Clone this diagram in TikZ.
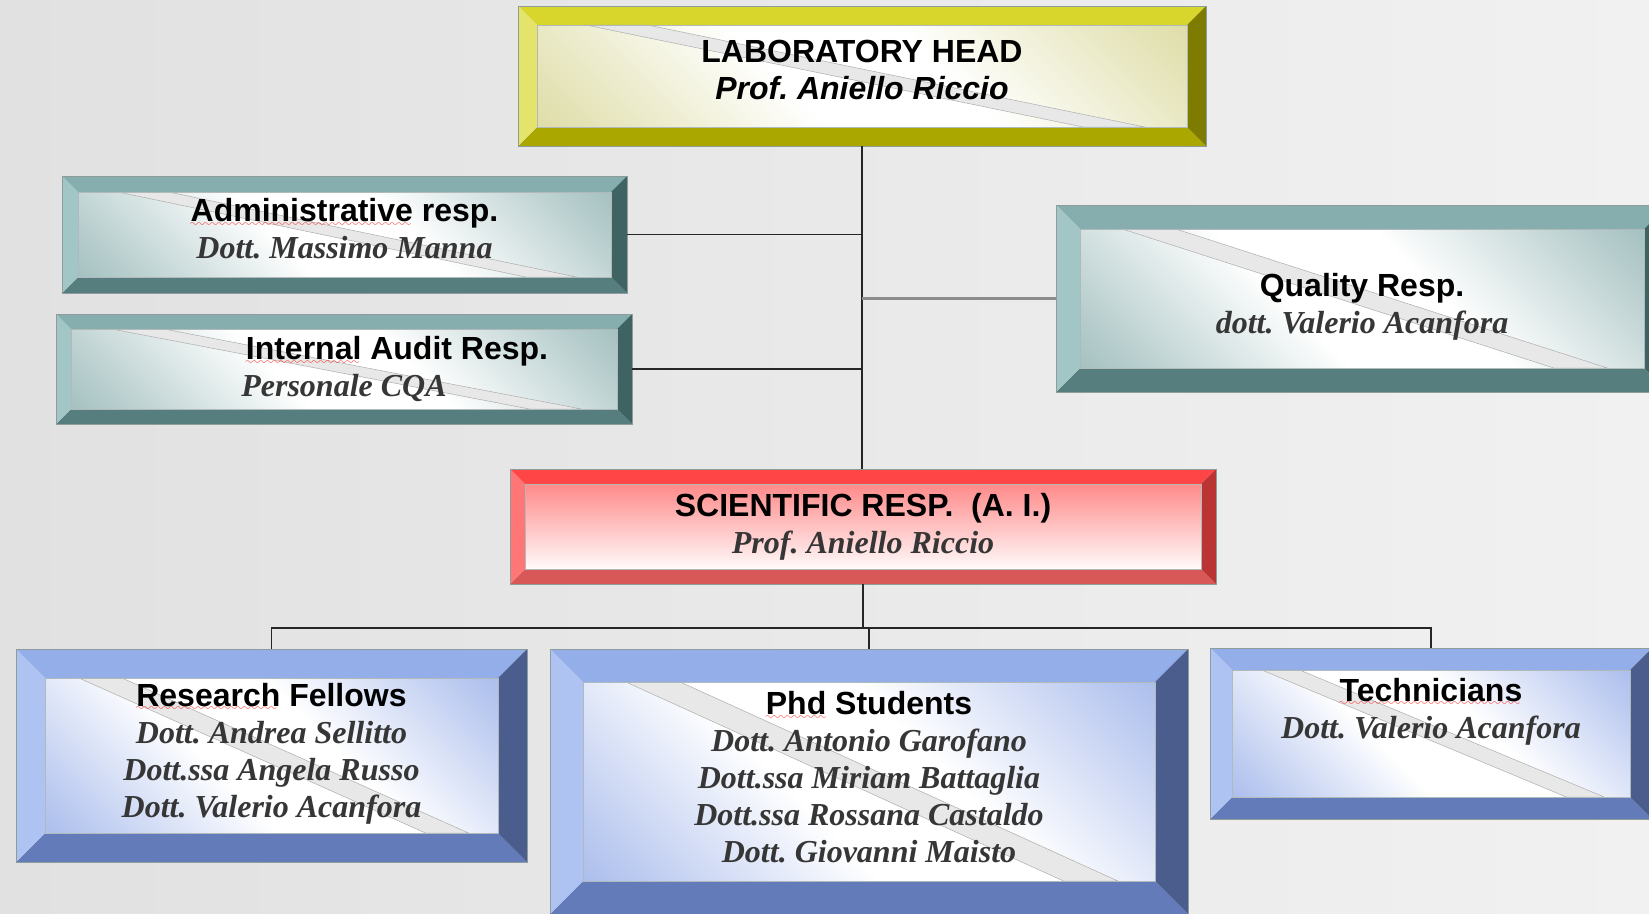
\documentclass[tikz,border=0pt]{standalone}
\usepackage{fontspec}
\setmainfont{Liberation Serif}
\setsansfont{Liberation Sans}
\usepackage{tikz}
\usetikzlibrary{calc,positioning}
\definecolor{yTop}{HTML}{D8D62C}
\definecolor{yLeft}{HTML}{E4E36C}
\definecolor{yRight}{HTML}{7D7C00}
\definecolor{yBot}{HTML}{AAA700}
\definecolor{yFace}{HTML}{CFCD7E}
\definecolor{tTop}{HTML}{86AEAE}
\definecolor{tLeft}{HTML}{A2C5C5}
\definecolor{tRight}{HTML}{3F6262}
\definecolor{tBot}{HTML}{567E7E}
\definecolor{tFace}{HTML}{7AA3A3}
\definecolor{rTop}{HTML}{FF4545}
\definecolor{rLeft}{HTML}{FF7676}
\definecolor{rRight}{HTML}{BA3434}
\definecolor{rBot}{HTML}{D85757}
\definecolor{rFace}{HTML}{FF8A8A}
\definecolor{bTop}{HTML}{94AEEA}
\definecolor{bLeft}{HTML}{AEC3F2}
\definecolor{bRight}{HTML}{4A5D8C}
\definecolor{bBot}{HTML}{637BB9}
\definecolor{bFace}{HTML}{849FE4}
\definecolor{cName}{HTML}{363636}
\definecolor{cEdge}{HTML}{8E9C9C}
\definecolor{bgL}{HTML}{E1E1E1}
\definecolor{bgR}{HTML}{F1F1F1}
\pgfdeclarehorizontalshading{yFaceSh}{100bp}{color(0bp)=(yFace); color(20bp)=(yFace!55!white);
  color(42bp)=(white); color(58bp)=(white); color(80bp)=(yFace!55!white); color(100bp)=(yFace)}
\pgfdeclarehorizontalshading{tFaceSh}{100bp}{color(0bp)=(tFace); color(20bp)=(tFace!55!white);
  color(42bp)=(white); color(58bp)=(white); color(80bp)=(tFace!55!white); color(100bp)=(tFace)}
\pgfdeclarehorizontalshading{bFaceSh}{100bp}{color(0bp)=(bFace); color(20bp)=(bFace!55!white);
  color(42bp)=(white); color(58bp)=(white); color(80bp)=(bFace!55!white); color(100bp)=(bFace)}
\font\wavefont=lasy10 at 10pt
\newcommand\hdr{\sffamily\upshape\bfseries\color{black}}
\newcommand\hdrit{\sffamily\itshape\bfseries\color{black}}
\newcommand\spellmark[1]{\setbox0=\hbox{#1}%
  \rlap{\lower4.5pt\hbox to\wd0{\color{red}\leaders\hbox{\wavefont\char58}\hfill}}\box0\relax}
\tikzset{
  bevel/.store in=\bvw, bevel=16pt,
  box/.style   ={rectangle,draw=cEdge,line width=0.8pt,inner sep=0pt,align=center,
                 text=cName,font=\fontsize{32}{37}\selectfont\bfseries\itshape\frenchspacing,
                 path picture={
                   \coordinate (pNW) at (path picture bounding box.north west);
                   \coordinate (pSE) at (path picture bounding box.south east);
                   \coordinate (pNE) at (pSE |- pNW);
                   \coordinate (pSW) at (pNW |- pSE);
                   \coordinate (iNW) at ($(pNW)+(\bvw,-\bvw)$);
                   \coordinate (iSE) at ($(pSE)+(-\bvw,\bvw)$);
                   \coordinate (iNE) at (iSE |- iNW);
                   \coordinate (iSW) at (iNW |- iSE);
                   \fill[bvT] (pNW) -- (pNE) -- (iNE) -- (iNW) -- cycle;
                   \fill[bvB] (pSW) -- (pSE) -- (iSE) -- (iSW) -- cycle;
                   \fill[bvL] (pNW) -- (iNW) -- (iSW) -- (pSW) -- cycle;
                   \fill[bvR] (pNE) -- (iNE) -- (iSE) -- (pSE) -- cycle;
                   \path[face] (iNW) rectangle (iSE);
                   \path[streak] ($(iNW)!0.075!(iNE)$) -- ($(iNW)!0.17!(iNE)$)
                     -- ($(iSW)!0.935!(iSE)$) -- ($(iSW)!0.84!(iSE)$) -- cycle;
                   \draw[cEdge!70,line width=0.5pt] (iNW) rectangle (iSE);
                 }},
  bevcols/.style n args={4}{/utils/exec={\colorlet{bvT}{#1}\colorlet{bvL}{#2}%
                 \colorlet{bvR}{#3}\colorlet{bvB}{#4}}},
  streak/.style={fill=black!9,draw=black!32,line width=0.5pt},
  ybox/.style  ={box,bevcols={yTop}{yLeft}{yRight}{yBot},
                 face/.style={shade,shading=yFaceSh,shading angle=45}},
  tbox/.style  ={box,bevcols={tTop}{tLeft}{tRight}{tBot},
                 face/.style={shade,shading=tFaceSh,shading angle=45}},
  bbox/.style  ={box,bevcols={bTop}{bLeft}{bRight}{bBot},
                 face/.style={shade,shading=bFaceSh,shading angle=45}},
  rbox/.style  ={box,bevcols={rTop}{rLeft}{rRight}{rBot},
                 face/.style={top color=rFace,bottom color=rFace!4},streak/.style={}},
  link/.style  ={line width=1.5pt,black!85},
  qlink/.style ={line width=3pt,black!45},
}
\begin{document}
\begin{tikzpicture}[x=1pt,y=-1pt]
\useasboundingbox (0,0) rectangle (1649,913);
\clip (0,0) rectangle (1649,913);
\shade[left color=bgL,right color=bgR] (0,0) rectangle (1649,913);
\coordinate (bus) at (0,628);
\node[ybox,bevel=19pt,minimum width=688,minimum height=140] (head) at (862,76)
  {{\hdr LABORATORY HEAD}\\{\hdrit Prof. Aniello Riccio}\\[-25pt]\mbox{}};
\node[tbox,bevel=16pt,minimum width=565,minimum height=117] (admin) at (344.5,234.5)
  {{\hdr\spellmark{Administrative} resp.}\\Dott. Massimo Manna\\[-25pt]\mbox{}};
\node[tbox,bevel=15pt,minimum width=576,minimum height=110] (audit) at (344,369)
  {{\hdr\hspace*{106pt}\spellmark{Internal} Audit Resp.}\\Personale CQA};
\node[tbox,bevel=24pt,minimum width=612,minimum height=187] (qual) at (1362,298.5)
  {\mbox{}\\[3pt]{\hdr Quality Resp.}\\dott. Valerio Acanfora};
\node[rbox,bevel=15pt,minimum width=706,minimum height=115] (sci) at (863,526.5)
  {{\hdr SCIENTIFIC RESP.\ \ (A. I.)}\\Prof. Aniello Riccio};
\node[bbox,bevel=29pt,minimum width=511,minimum height=213] (rf) at (271.5,755.5)
  {{\hdr\spellmark{Research} Fellows}\\Dott. Andrea Sellitto\\Dott.ssa Angela Russo\\Dott. Valerio Acanfora\\[-26pt]\mbox{}};
\node[bbox,bevel=33pt,minimum width=638,minimum height=265] (phd) at (869,781.5)
  {{\hdr\spellmark{Phd} Students}\\Dott. Antonio Garofano\\Dott.ssa Miriam Battaglia\\Dott.ssa Rossana Castaldo\\Dott. Giovanni Maisto\\[-28pt]\mbox{}};
\node[bbox,bevel=22pt,minimum width=442,minimum height=171] (tech) at (1431,733.5)
  {{\hdr\spellmark{Technicians}}\\Dott. Valerio Acanfora\\[14pt]\mbox{}};
\draw[link] (head.south) -- (head.south |- sci.north);
\draw[link] (admin.east) -- (admin.east -| head.south);
\draw[link] (audit.east) -- (audit.east -| head.south);
\draw[qlink] (qual.west) -- (qual.west -| head.south);
\draw[link] (sci.south) -- (sci.south |- bus);
\draw[link] (rf.north) -- (rf.north |- bus) -- (tech.north |- bus) -- (tech.north);
\draw[link] (phd.north) -- (phd.north |- bus);
\end{tikzpicture}
\end{document}
